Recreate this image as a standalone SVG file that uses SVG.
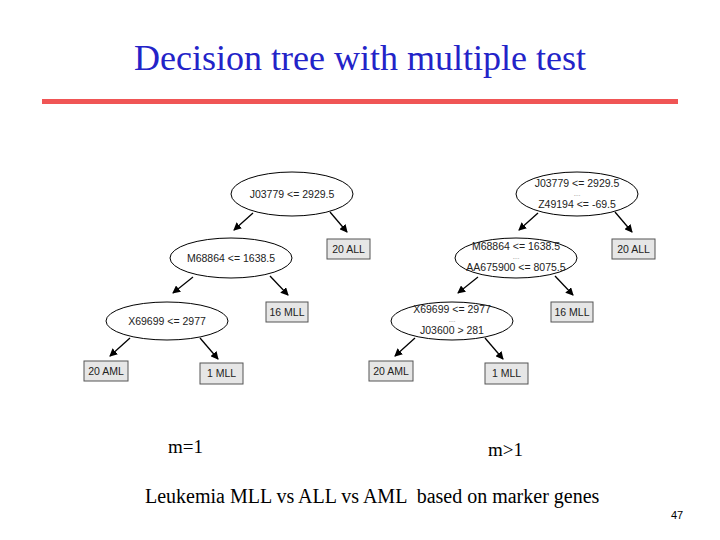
<svg xmlns="http://www.w3.org/2000/svg" width="720" height="540" viewBox="0 0 720 540">
<style>
.e{fill:#fff;stroke:#000;stroke-width:1}
.b{fill:#e6e6e6;stroke:#555;stroke-width:1}
.t{font-family:"Liberation Sans",Arial,sans-serif;font-size:10.5px;fill:#222;text-anchor:middle}
.d{font-family:"Liberation Sans",Arial,sans-serif;font-size:6px;fill:#555;text-anchor:middle}
.s{font-family:"Liberation Serif","Times New Roman",serif;fill:#000}
.c line{stroke:#000;stroke-width:1.3;marker-end:url(#a)}
</style>
<defs><marker id="a" markerWidth="8" markerHeight="8" refX="7" refY="4" orient="auto" markerUnits="userSpaceOnUse"><path d="M0,0L8,4L0,8z" fill="#000"/></marker></defs>
<rect width="720" height="540" fill="#fff"/>
<text x="360" y="70" class="s" font-size="36" style="fill:#2323c8" text-anchor="middle">Decision tree with multiple test</text>
<rect x="42" y="99" width="636" height="5" fill="#f05555"/>
<g id="L1"><ellipse class="e" cx="292" cy="194" rx="61" ry="22"/><text class="t" x="292" y="198">J03779 &lt;= 2929.5</text></g>
<g id="L2"><ellipse class="e" cx="231" cy="258" rx="61" ry="20"/><text class="t" x="231" y="262">M68864 &lt;= 1638.5</text></g>
<g id="L3"><ellipse class="e" cx="167" cy="321" rx="61" ry="19"/><text class="t" x="167" y="325">X69699 &lt;= 2977</text></g>
<g id="L4"><rect class="b" x="327" y="239" width="43" height="20"/><text class="t" x="348.5" y="253">20 ALL</text></g>
<g id="L5"><rect class="b" x="266" y="302" width="42" height="20"/><text class="t" x="287" y="316">16 MLL</text></g>
<g id="L6"><rect class="b" x="84" y="361" width="44" height="20"/><text class="t" x="106" y="375">20 AML</text></g>
<g id="L7"><rect class="b" x="200" y="363" width="43" height="21"/><text class="t" x="221.5" y="377">1 MLL</text></g>
<g id="R1"><ellipse class="e" cx="577" cy="194" rx="61" ry="22"/><text class="t" x="577" y="187">J03779 &lt;= 2929.5</text><text class="d" x="577" y="196">....</text><text class="t" x="577" y="208">Z49194 &lt;= -69.5</text></g>
<g id="R2"><ellipse class="e" cx="516" cy="258" rx="61" ry="20"/><text class="t" x="516" y="250">M68864 &lt;= 1638.5</text><text class="d" x="516" y="259">....</text><text class="t" x="516" y="271">AA675900 &lt;= 8075.5</text></g>
<g id="R3"><ellipse class="e" cx="452" cy="321" rx="61" ry="19"/><text class="t" x="452" y="313">X69699 &lt;= 2977</text><text class="d" x="452" y="322">....</text><text class="t" x="452" y="334">J03600 &gt; 281</text></g>
<g id="R4"><rect class="b" x="612" y="239" width="43" height="20"/><text class="t" x="633.5" y="253">20 ALL</text></g>
<g id="R5"><rect class="b" x="551" y="302" width="42" height="20"/><text class="t" x="572" y="316">16 MLL</text></g>
<g id="R6"><rect class="b" x="369" y="361" width="44" height="20"/><text class="t" x="391" y="375">20 AML</text></g>
<g id="R7"><rect class="b" x="485" y="363" width="43" height="21"/><text class="t" x="506.5" y="377">1 MLL</text></g>
<g class="c" id="connectors">
<line x1="253" y1="213" x2="234" y2="230"/><line x1="330" y1="212" x2="347" y2="232"/>
<line x1="193" y1="277" x2="173" y2="293"/><line x1="270" y1="276" x2="288" y2="295"/>
<line x1="130" y1="338" x2="110" y2="356"/><line x1="200" y1="338" x2="218" y2="359"/>
<line x1="538" y1="213" x2="519" y2="230"/><line x1="615" y1="212" x2="632" y2="232"/>
<line x1="478" y1="277" x2="458" y2="293"/><line x1="555" y1="276" x2="573" y2="295"/>
<line x1="415" y1="338" x2="395" y2="356"/><line x1="485" y1="338" x2="503" y2="359"/>
</g>
<text class="s" x="168" y="453" font-size="19">m=1</text>
<text class="s" x="488" y="456" font-size="19">m&gt;1</text>
<text class="s" x="145" y="503" font-size="20" xml:space="preserve">Leukemia MLL vs ALL vs AML  based on marker genes</text>
<text x="677" y="519" font-family="Liberation Sans,Arial,sans-serif" font-size="11" text-anchor="middle">47</text>
</svg>
